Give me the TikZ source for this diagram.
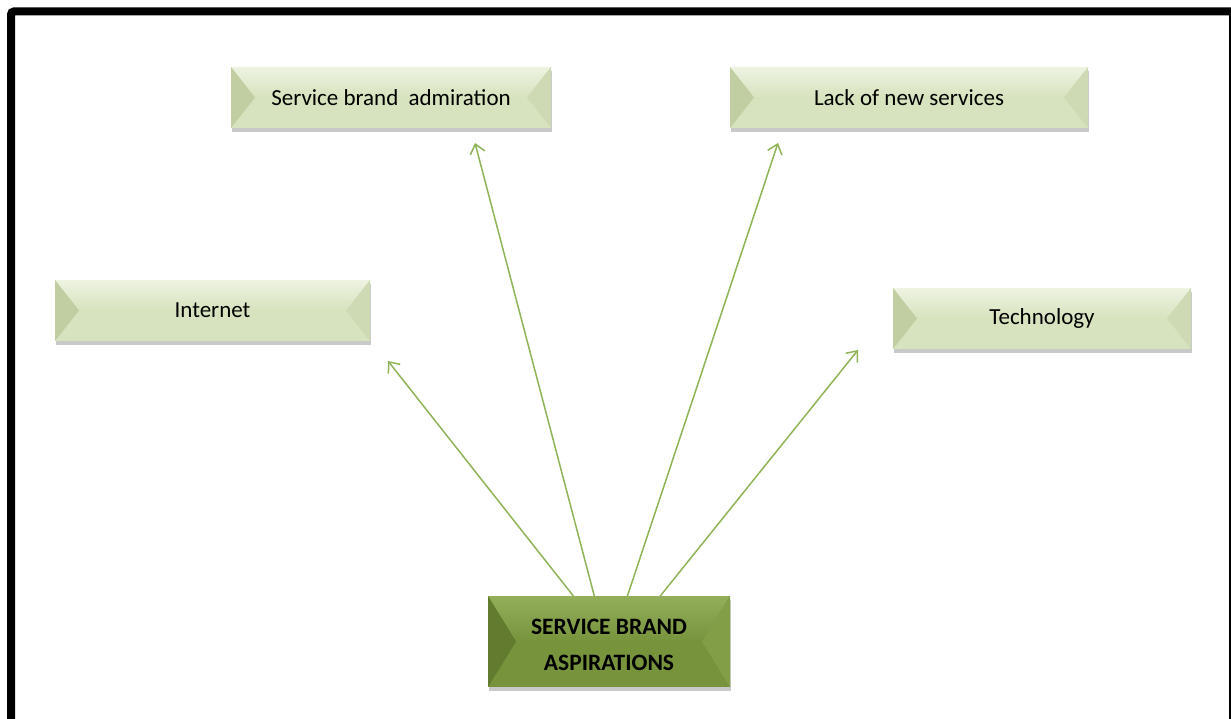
\documentclass[tikz,border=0pt]{standalone}
\usepackage{fontspec}
\setmainfont{Carlito}
\usetikzlibrary{calc,arrows.meta,shadows,backgrounds}

\definecolor{paleBase}{RGB}{215,227,190}
\definecolor{paleTop}{RGB}{238,243,226}
\definecolor{paleLeft}{RGB}{192,206,162}
\definecolor{paleRight}{RGB}{205,218,179}
\definecolor{oliveBase}{RGB}{119,147,60}
\definecolor{oliveTop}{RGB}{148,175,90}
\definecolor{oliveLeft}{RGB}{98,123,46}
\definecolor{oliveRight}{RGB}{130,158,70}
\definecolor{linkGreen}{RGB}{143,179,87}

\tikzset{
  % bevelled button: #1 base, #2 top highlight, #3 left facet, #4 right facet, #5 facet depth
  bevel/.style n args={5}{
    fill=#1, inner sep=0pt,
    drop shadow={shadow xshift=1pt, shadow yshift=-4pt, opacity=0.3, fill=black!70},
    path picture={
      \coordinate (pNW) at (path picture bounding box.north west);
      \coordinate (pNE) at (path picture bounding box.north east);
      \coordinate (pSW) at (path picture bounding box.south west);
      \coordinate (pSE) at (path picture bounding box.south east);
      \coordinate (pW) at (path picture bounding box.west);
      \coordinate (pE) at (path picture bounding box.east);
      \shade[top color=#2, bottom color=#1]
        (pNW) -- (pNE) -- ($(pE)+(-#5,0)$) -- ($(pW)+(#5,0)$) -- cycle;
      \fill[#3] (pNW) -- ($(pW)+(#5,0)$) -- (pSW) -- cycle;
      \fill[#4] (pNE) -- ($(pE)+(-#5,0)$) -- (pSE) -- cycle;
    }
  },
  palebox/.style={bevel={paleBase}{paleTop}{paleLeft}{paleRight}{24},
    minimum height=61pt, font=\fontsize{23}{27}\selectfont},
  corebox/.style={bevel={oliveBase}{oliveTop}{oliveLeft}{oliveRight}{28},
    minimum width=242pt, minimum height=91pt},
  corelabel/.style={align=center, inner sep=0pt,
    font=\fontsize{23.5}{36}\selectfont\bfseries},
  link/.style={draw=linkGreen, line width=1.5pt,
    -{Straight Barb[length=9pt,width=15pt,line width=1.5pt]}},
}

\begin{document}
\begin{tikzpicture}[x=1pt,y=-1pt]
  \useasboundingbox (0,0) rectangle (1231,719);

  % outer frame, running past the right and bottom edges
  \draw[line width=8pt, rounded corners=3pt] (11,730) -- (11,11.5) -- (1233,11.5) -- (1233,730);

  % free ends of the connectors
  \coordinate (tipI) at (388,361);
  \coordinate (tipA) at (475,143);
  \coordinate (tipL) at (778,143);
  \coordinate (tipT) at (858,350);

  \node[corebox] (core) at (609,641.5) {};
  \node[corelabel] (coreLabel) at (609,644.5) {SERVICE BRAND\\ASPIRATIONS};

  \begin{scope}[on background layer]
    \draw[link] ([xshift=87pt,yshift=-2pt]core.north west) -- (tipI);
    \draw[link] ([xshift=107pt,yshift=-2pt]core.north west) -- (tipA);
    \draw[link] ([xshift=139pt,yshift=-2pt]core.north west) -- (tipL);
    \draw[link] ([xshift=171pt,yshift=-2pt]core.north west) -- (tipT);
  \end{scope}

  \node[palebox, minimum width=320pt] (adm) at (391,97.5) {Service brand\hspace{0.22em} admiration};
  \node[palebox, minimum width=358pt] (lack) at (909,97.5) {Lack of new services};
  \node[palebox, minimum width=315pt] (inet) at (212.5,310.5) {Internet};
  \node[palebox, minimum width=298pt] (tech) at (1042,318.5) {Technology};
\end{tikzpicture}
\end{document}
